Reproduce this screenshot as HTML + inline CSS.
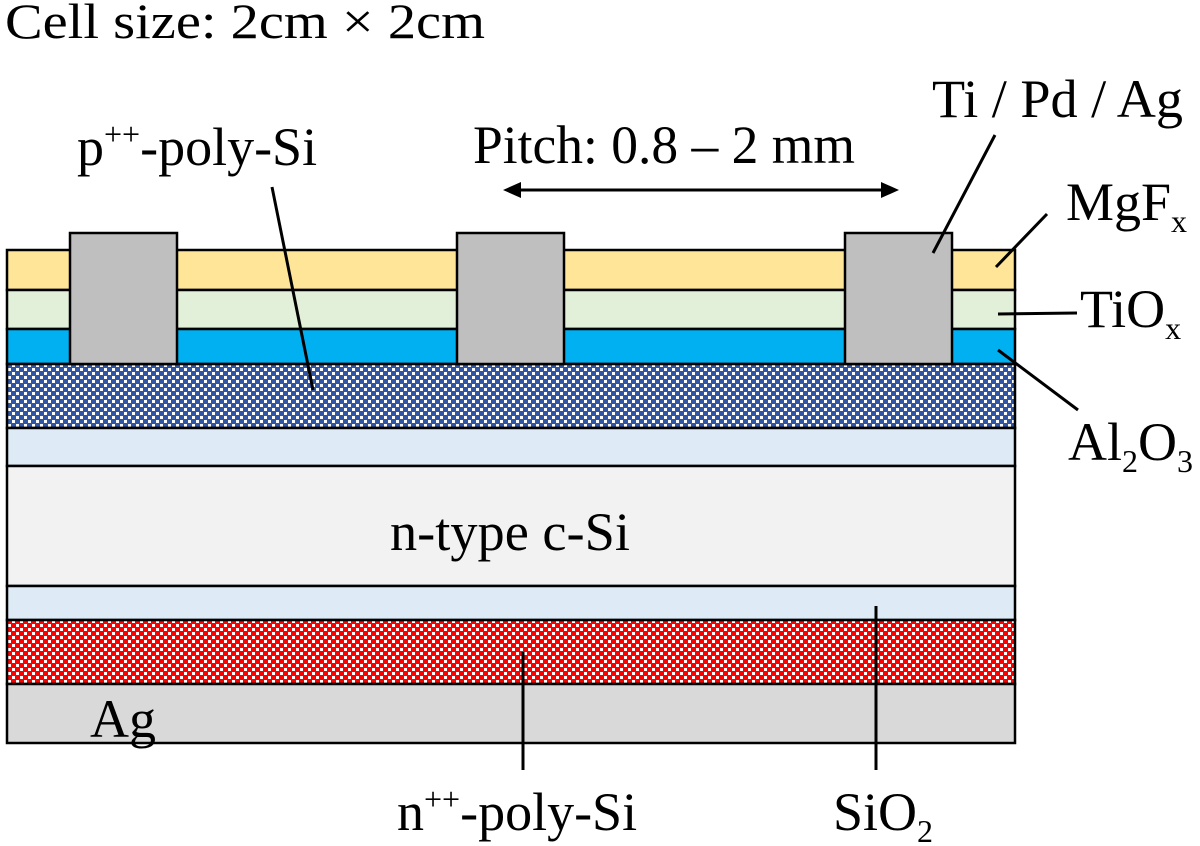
<!DOCTYPE html>
<html><head><meta charset="utf-8"><style>html,body{margin:0;padding:0;background:#fff}svg{display:block}</style></head>
<body>
<svg width="1200" height="846" viewBox="0 0 1200 846" xmlns="http://www.w3.org/2000/svg" font-family="Liberation Serif, serif" font-size="54" fill="#000">
<defs>
<pattern id="pb" width="8" height="8" patternUnits="userSpaceOnUse">
<rect width="8" height="8" fill="#2f55a4"/>
<rect x="0" y="0" width="3" height="3" fill="#fff"/>
<rect x="4" y="4" width="3" height="3" fill="#fff"/>
</pattern>
<pattern id="pr" width="8" height="8" patternUnits="userSpaceOnUse">
<rect width="8" height="8" fill="#ff0000"/>
<rect x="0" y="0" width="3" height="3" fill="#fff"/>
<rect x="4" y="4" width="3" height="3" fill="#fff"/>
</pattern>
</defs>
<g stroke="#000" stroke-width="2.5">
<rect x="7" y="250" width="1008" height="40" fill="#ffe597"/>
<rect x="7" y="290" width="1008" height="39" fill="#e2efd9"/>
<rect x="7" y="329" width="1008" height="35" fill="#00b0f0"/>
<rect x="7" y="364" width="1008" height="64" fill="url(#pb)"/>
<rect x="7" y="428" width="1008" height="38" fill="#deebf7"/>
<rect x="7" y="466" width="1008" height="120" fill="#f2f2f2"/>
<rect x="7" y="586" width="1008" height="34" fill="#deebf7"/>
<rect x="7" y="620" width="1008" height="64" fill="url(#pr)"/>
<rect x="7" y="684" width="1008" height="59" fill="#d9d9d9"/>
<rect x="70" y="233" width="107" height="131" fill="#bfbfbf"/>
<rect x="457" y="233" width="107" height="131" fill="#bfbfbf"/>
<rect x="845" y="233" width="107" height="131" fill="#bfbfbf"/>
</g>
<g stroke="#000" stroke-width="3">
<line x1="272" y1="187" x2="313" y2="390"/>
<line x1="995" y1="135" x2="933" y2="253"/>
<line x1="1047" y1="214" x2="996" y2="267"/>
<line x1="998" y1="314" x2="1077" y2="313"/>
<line x1="998" y1="350" x2="1078" y2="410"/>
<line x1="523" y1="652" x2="523" y2="770"/>
<line x1="876" y1="606" x2="876" y2="770"/>
<line x1="515" y1="190" x2="887" y2="190"/>
</g>
<polygon points="503,190 521,182 521,198"/>
<polygon points="899,190 881,182 881,198"/>
<text x="5" y="38" font-size="50" textLength="480" lengthAdjust="spacingAndGlyphs">Cell size: 2cm × 2cm</text>
<text x="473" y="163" textLength="382" lengthAdjust="spacingAndGlyphs">Pitch: 0.8 – 2 mm</text>
<text x="77" y="165">p<tspan font-size="32" dy="-20">++</tspan><tspan dy="20">-poly-Si</tspan></text>
<text x="932" y="117" textLength="251" lengthAdjust="spacingAndGlyphs">Ti / Pd / Ag</text>
<text x="1066" y="220">MgF<tspan font-size="32" dy="12">x</tspan></text>
<text x="1080" y="327">TiO<tspan font-size="32" dy="12">x</tspan></text>
<text x="1068" y="460">Al<tspan font-size="32" dy="12">2</tspan><tspan dy="-12">O</tspan><tspan font-size="32" dy="12">3</tspan></text>
<text x="390" y="550" textLength="240" lengthAdjust="spacingAndGlyphs">n-type c-Si</text>
<text x="90" y="737">Ag</text>
<text x="397" y="830">n<tspan font-size="32" dy="-20">++</tspan><tspan dy="20">-poly-Si</tspan></text>
<text x="833" y="830">SiO<tspan font-size="32" dy="12">2</tspan></text>
</svg>
</body></html>
